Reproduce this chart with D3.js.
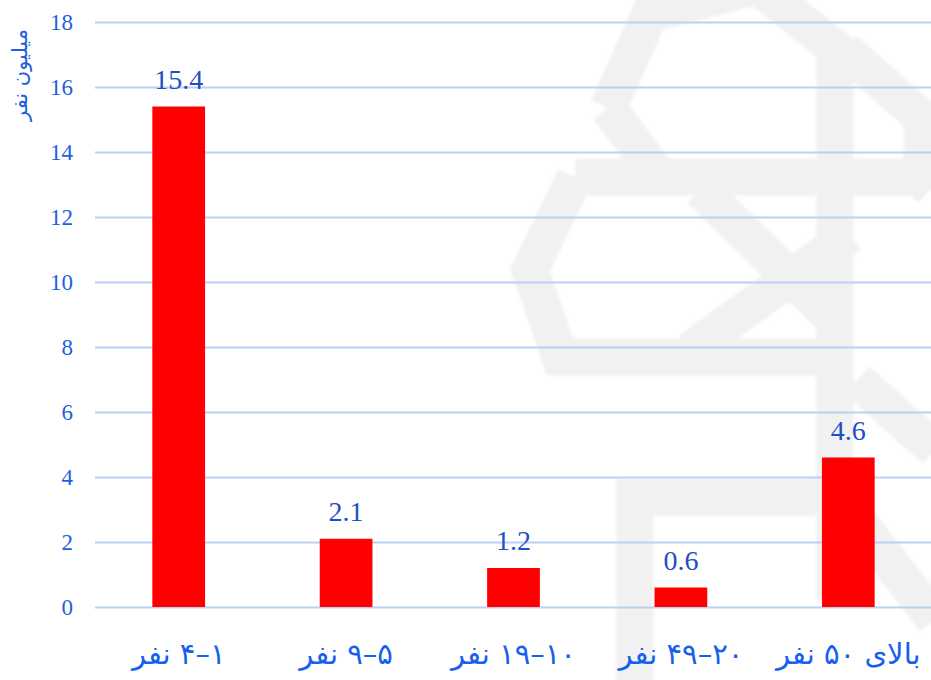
<!DOCTYPE html>
<html>
<head>
<meta charset="utf-8">
<script src="https://cdn.jsdelivr.net/npm/d3@7"></script>
<style>
  body { margin: 0; background: #fff; }
  svg { display: block; }
</style>
</head>
<body>
<div id="chart"></div>
<script>
// Chart data
const categories = ['۱–۴ نفر', '۵–۹ نفر', '۱۰–۱۹ نفر', '۲۰–۴۹ نفر', 'بالای ۵۰ نفر']
const values = [15.4, 2.1, 1.2, 0.6, 4.6]
const yTicks = [0, 2, 4, 6, 8, 10, 12, 14, 16, 18]
const yTitle = 'میلیون نفر'

const width = 931
const height = 680
const margin = { top: 22, right: -1, bottom: 73, left: 95 }

const svg = d3.select('#chart').append('svg')
  .attr('width', width)
  .attr('height', height)

// Faint logo in the background (decoration only)
const defs = svg.append('defs')
defs.append('filter').attr('id', 'soft')
  .append('feGaussianBlur').attr('stdDeviation', 1.5)

const mark = svg.append('g')
  .attr('fill', 'none')
  .attr('stroke', '#f1f1f1')
  .attr('stroke-width', 37)
  .attr('stroke-linejoin', 'miter')
  .attr('filter', 'url(#soft)')
const bands = [
  [[608, 108], [650, 14], [757, -14], [835, 48], [835, 600]],
  [[608, 108], [660, 177]],
  [[575, 177], [918, 177]],
  [[845, 50], [922, 118], [922, 172], [905, 190]],
  [[575, 177], [530, 270], [560, 357], [835, 357]],
  [[700, 190], [835, 320]],
  [[690, 350], [850, 235]],
  [[857, 380], [935, 450]],
  [[635, 700], [635, 497], [835, 497]],
  [[857, 520], [935, 620]]
]
mark.selectAll('path')
  .data(bands)
  .enter()
  .append('path')
  .attr('d', d3.line())

const x = d3.scaleBand()
  .domain(categories)
  .range([margin.left, width - margin.right])

const y = d3.scaleLinear()
  .domain([0, 18])
  .range([height - margin.bottom, margin.top])

// Gridlines + tick labels
const axis = d3.axisLeft(y)
  .tickValues(yTicks)
  .tickSize(-(width - margin.right - margin.left))
  .tickPadding(22)
  .tickFormat(d3.format('d'))

svg.append('g')
  .attr('transform', `translate(${margin.left},0)`)
  .call(axis)
  .call(g => g.select('.domain').remove())
  .call(g => g.selectAll('.tick line').attr('stroke', '#bcd0f5').attr('stroke-width', 1.8))
  .call(g => g.selectAll('.tick text')
    .attr('fill', '#1f5fdf')
    .style('font-family', '"Liberation Serif", serif')
    .style('font-size', '23px'))

// Bars
const barW = x.bandwidth() * 0.315
svg.append('g')
  .selectAll('rect')
  .data(values)
  .enter()
  .append('rect')
  .attr('x', (d, i) => x(categories[i]) + (x.bandwidth() - barW) / 2)
  .attr('y', d => y(d))
  .attr('width', barW)
  .attr('height', d => y(0) - y(d))
  .attr('fill', '#ff0000')

// Value labels
svg.append('g')
  .selectAll('text')
  .data(values)
  .enter()
  .append('text')
  .attr('x', (d, i) => x(categories[i]) + x.bandwidth() / 2)
  .attr('y', d => y(d) - 18)
  .attr('text-anchor', 'middle')
  .attr('fill', '#1f4fc4')
  .style('font-family', '"Liberation Serif", serif')
  .style('font-size', '28px')
  .text(d => d.toFixed(1))

// Category labels
svg.append('g')
  .selectAll('text')
  .data(categories)
  .enter()
  .append('text')
  .attr('x', d => x(d) + x.bandwidth() / 2)
  .attr('y', 664)
  .attr('text-anchor', 'middle')
  .attr('direction', 'rtl')
  .attr('fill', '#1560ee')
  .style('font-family', '"DejaVu Sans", sans-serif')
  .style('font-size', '29px')
  .text(d => d)

// Y title
svg.append('text')
  .attr('transform', 'translate(27,75) rotate(-90)')
  .attr('text-anchor', 'middle')
  .attr('direction', 'rtl')
  .attr('fill', '#1f5fdf')
  .style('font-family', '"DejaVu Sans", sans-serif')
  .style('font-size', '21px')
  .text(yTitle)
</script>
</body>
</html>
